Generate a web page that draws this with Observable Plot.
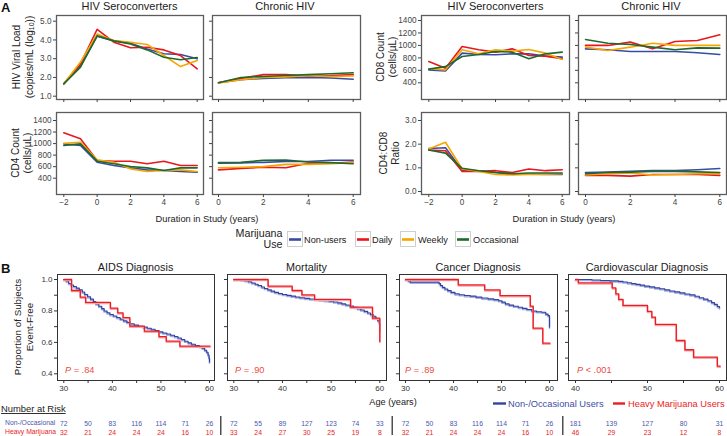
<!DOCTYPE html>
<html><head><meta charset="utf-8">
<script src="https://cdn.jsdelivr.net/npm/d3@7"></script>
<script src="https://cdn.jsdelivr.net/npm/@observablehq/plot@0.6"></script>
<style>
html,body{margin:0;padding:0;background:#fff;}
#c{position:relative;width:727px;height:436px;overflow:hidden;background:#fff;font-family:"Liberation Sans",Arial,Helvetica,sans-serif;}
</style></head>
<body><div id="c"></div>
<script>
// ---------- DATA ----------
const groups = ["Non-users","Daily","Weekly","Occasional"];
const groupColors = ["#3B4BA5","#E8171D","#F7A600","#1E6A2E"];
const seroYears = [-2,-1,0,1,2,3,4,5,6];
const chronicYears = [0,1,2,3,4,5,6];

// series order: Non-users, Daily, Weekly, Occasional
const vlSero = [
  [1.66,2.62,4.20,3.95,3.83,3.52,3.26,3.22,3.00],
  [1.66,2.72,4.57,3.88,3.58,3.61,3.47,3.17,2.46],
  [1.66,2.82,4.32,3.97,3.88,3.76,3.17,2.58,2.90],
  [1.66,2.55,4.22,3.95,3.79,3.47,3.08,2.94,3.06]
];
const vlChronic = [
  [1.72,1.88,1.95,1.98,2.00,1.97,1.90],
  [1.72,1.95,2.15,2.15,2.08,2.10,2.15],
  [1.70,1.88,2.00,2.03,2.10,2.05,2.08],
  [1.72,2.00,2.05,2.10,2.15,2.20,2.25]
];
const cd8Sero = [
  [608,590,876,855,850,865,865,828,812],
  [742,635,983,930,892,945,838,828,785],
  [625,608,930,865,930,908,935,876,775],
  [620,660,822,855,903,892,785,865,892]
];
const cd8Chronic = [
  [945,930,903,903,903,882,855],
  [1000,1000,1053,945,1063,1080,1170],
  [972,919,972,1036,1000,1000,1000],
  [1095,1036,1015,972,930,960,956]
];
const cd4Sero = [
  [995,966,677,620,579,545,533,516,504],
  [1186,1082,706,695,695,649,695,620,620],
  [1007,1024,718,677,562,516,533,545,516],
  [966,995,695,649,602,579,533,579,579]
];
const cd4Chronic = [
  [660,665,675,690,690,710,710],
  [545,570,590,580,660,660,680],
  [580,590,600,640,640,650,670],
  [670,675,710,715,680,670,650]
];
const ratioSero = [
  [1.82,1.85,0.90,0.87,0.80,0.75,0.73,0.72,0.72],
  [1.75,1.72,0.85,0.85,0.88,0.80,0.95,0.88,0.92],
  [1.80,2.08,0.95,0.85,0.72,0.70,0.72,0.73,0.75],
  [1.75,1.62,0.98,0.88,0.80,0.75,0.78,0.78,0.78]
];
const ratioChronic = [
  [0.80,0.82,0.85,0.88,0.88,0.92,0.97],
  [0.68,0.68,0.65,0.72,0.72,0.72,0.68],
  [0.70,0.75,0.78,0.70,0.72,0.75,0.75],
  [0.75,0.80,0.82,0.85,0.85,0.83,0.80]
];

// Kaplan-Meier step points [age, proportion event-free]
const aidsNon = [[30,1],[30.5,0.99],[31,0.975],[31.5,0.965],[32,0.955],[32.6,0.945],[33.2,0.935],[33.8,0.92],[34.3,0.905],[34.9,0.89],[35.5,0.875],[36.1,0.86],[36.6,0.845],[37.2,0.83],[37.8,0.815],[38.3,0.8],[38.9,0.788],[39.5,0.777],[40.2,0.768],[40.9,0.758],[41.6,0.748],[42.3,0.737],[43,0.727],[43.7,0.718],[44.5,0.71],[45.4,0.703],[46.3,0.697],[47.2,0.69],[48,0.683],[48.8,0.675],[49.6,0.667],[50.4,0.66],[51.2,0.653],[52,0.645],[52.8,0.637],[53.5,0.628],[54.2,0.618],[54.9,0.607],[55.6,0.597],[56.3,0.588],[57.1,0.58],[57.9,0.573],[58.5,0.563],[59,0.55],[59.4,0.537],[59.7,0.52],[59.9,0.5],[60,0.475]];
const aidsHeavy = [[30,1],[31.6,0.93],[33.4,0.888],[34.5,0.854],[39.6,0.818],[41.1,0.788],[42.2,0.758],[43.6,0.703],[46.6,0.671],[49.6,0.637],[51.1,0.608],[53.9,0.576],[60.1,0.576]];
const mortNon = [[30,1],[31.5,0.997],[32.3,0.992],[33,0.986],[33.7,0.978],[34.4,0.97],[35,0.962],[35.7,0.952],[36.3,0.943],[37,0.934],[37.7,0.926],[38.4,0.918],[39.2,0.911],[40,0.905],[40.9,0.899],[41.8,0.894],[42.7,0.889],[43.6,0.884],[44.6,0.88],[45.6,0.876],[46.6,0.873],[47.6,0.87],[48.6,0.866],[49.6,0.862],[50.5,0.857],[51.4,0.851],[52.2,0.845],[53,0.838],[53.8,0.831],[54.6,0.823],[55.4,0.815],[56.1,0.806],[56.8,0.797],[57.5,0.787],[58.1,0.777],[58.7,0.766],[59.2,0.752],[59.6,0.738],[59.9,0.722],[60,0.67]];
const mortHeavy = [[30,1],[37.05,0.958],[42,0.93],[44,0.902],[46.6,0.873],[54,0.824],[58.5,0.754],[60,0.606]];
const cancerNon = [[30,1],[30.6,0.991],[31,0.983],[37,0.974],[37.3,0.962],[37.7,0.95],[38.2,0.94],[38.8,0.929],[39.5,0.918],[40.3,0.909],[41.2,0.903],[42.3,0.898],[43.5,0.894],[44.7,0.888],[45.9,0.882],[47.2,0.877],[48.4,0.872],[49.4,0.865],[50.1,0.856],[50.8,0.845],[51.6,0.837],[52.5,0.83],[53.5,0.823],[54.4,0.816],[55.3,0.809],[56.3,0.8],[57.3,0.795],[58.4,0.792],[59.2,0.78],[59.7,0.77],[60,0.697]];
const cancerHeavy = [[30,1],[41,0.966],[46.5,0.934],[49.7,0.898],[56,0.83],[56.6,0.69],[58.6,0.595],[60.1,0.595]];
const cardioNon = [[40,1],[42.3,0.997],[43.5,0.994],[44.8,0.991],[46,0.988],[46.6,0.984],[47.2,0.979],[47.8,0.974],[48.4,0.969],[49,0.964],[49.6,0.958],[50.3,0.953],[51,0.947],[51.7,0.941],[52.4,0.934],[53.1,0.927],[53.8,0.921],[54.5,0.915],[55.2,0.908],[55.9,0.902],[56.6,0.893],[57.2,0.884],[57.8,0.875],[58.4,0.865],[58.9,0.853],[59.3,0.842],[59.7,0.828],[60,0.82]];
const cardioHeavy = [[40,1],[40.4,0.979],[45.1,0.947],[45.6,0.909],[46,0.873],[46.6,0.835],[50,0.797],[50.6,0.76],[51.1,0.714],[54,0.612],[55.2,0.553],[56.4,0.506],[59.7,0.449],[60.1,0.449]];

const riskAges = [30,35,40,45,50,55,60];
const riskAgesCardio = [40,45,50,55,60];
const aidsRiskNon = [72,50,83,116,114,71,26];
const aidsRiskHeavy = [32,21,24,24,24,16,10];
const mortRiskNon = [72,55,89,127,123,74,33];
const mortRiskHeavy = [33,24,27,30,25,19,8];
const cancerRiskNon = [72,50,83,116,114,71,26];
const cancerRiskHeavy = [32,21,24,24,24,16,10];
const cardioRiskNon = [181,139,127,80,31];
const cardioRiskHeavy = [46,29,23,12,8];

// ---------- DRAW ----------
const FONT = "'Liberation Sans', Arial, Helvetica, sans-serif";
const root = document.getElementById("c");
function place(svg, left, top){
  svg.style.position = "absolute";
  svg.style.left = left + "px";
  svg.style.top = top + "px";
  svg.style.overflow = "visible";
  svg.style.maxWidth = "none";
  root.appendChild(svg);
}
function toRows(years, series){
  return series.flatMap((vals,g) => vals.map((v,i) => ({x: years[i], y: v, group: groups[g]})));
}
const none = () => "";

function panelA(o){
  const ml=30, mr=4, mt=4, mb=20;
  const svg = Plot.plot({
    width: o.W+ml+mr, height: o.H+mt+mb,
    marginLeft: ml, marginRight: mr, marginTop: mt, marginBottom: mb,
    style: {background:"transparent", fontFamily: FONT, fontSize:"8.2px", color:"#444"},
    x: {domain: o.xDomain, insetLeft: o.xi[0], insetRight: o.xi[1]},
    y: {domain: o.yDomain, insetTop: o.yi[0], insetBottom: o.yi[1]},
    color: {domain: groups, range: groupColors},
    marks: [
      Plot.line(toRows(o.years, o.series), {x:"x", y:"y", z:"group", stroke:"group", strokeWidth:1.6}),
      Plot.frame({stroke:"#5c5c5c", strokeWidth:1.3}),
      Plot.axisX({ticks: o.xTicks, tickSize:3, tickPadding:2, tickFormat: o.xLabels ? d3.format("d") : none, label:null}),
      Plot.axisY({ticks: o.yTicks, tickSize:3, tickPadding:2, tickFormat: o.yFmt || none, label:null})
    ]
  });
  place(svg, o.L-ml, o.T-mt);
}

const seroX = {xDomain:[-2,6], years: seroYears, xTicks:[-2,0,2,4,6]};
const chronX = {xDomain:[0,6], years: chronicYears, xTicks:[0,2,4,6]};
const vlY = {yDomain:[1,5], yTicks:[1,2,3,4,5]};
const cellY = {yDomain:[400,1400], yTicks:[400,600,800,1000,1200,1400]};
const ratY = {yDomain:[0,3], yTicks:[0,1,2,3]};
const f1 = d3.format(".1f"), fd = d3.format("d");

panelA({...seroX, ...vlY, series: vlSero, L:56, T:15, W:147, H:84, xi:[7.3,6.3], yi:[5.7,3.3], yFmt:f1});
panelA({...chronX, ...vlY, series: vlChronic, L:212, T:15, W:148, H:84, xi:[6,7.3], yi:[5.7,3.3]});
panelA({...seroX, ...cellY, series: cd8Sero, L:421, T:15, W:148, H:84, xi:[7.3,7.3], yi:[5,16.7], yFmt:fd});
panelA({...chronX, ...cellY, series: cd8Chronic, L:578, T:15, W:148, H:84, xi:[7,6.7], yi:[5,16.7]});
panelA({...seroX, ...cellY, series: cd4Sero, L:56, T:112, W:147, H:82, xi:[7.3,6.3], yi:[8,16.3], yFmt:fd, xLabels:true});
panelA({...chronX, ...cellY, series: cd4Chronic, L:212, T:112, W:148, H:82, xi:[6,7.3], yi:[8,16.3], xLabels:true});
panelA({...seroX, ...ratY, series: ratioSero, L:421, T:112, W:148, H:82, xi:[7.3,7.3], yi:[8,3], yFmt:f1, xLabels:true});
panelA({...chronX, ...ratY, series: ratioChronic, L:578, T:112, W:148, H:82, xi:[7,6.7], yi:[8,3], xLabels:true});

// KM panels
const kmYTicks = [0.4,0.5,0.6,0.7,0.8,0.9,1.0];
const kmYFmt = d => (Math.round(d*10) % 2 === 0 ? d.toFixed(1) : "");
function panelB(o){
  const ml=30, mr=4, mt=4, mb=20;
  const acc = {x: d => d[0], y: d => d[1], curve: "step-after"};
  const svg = Plot.plot({
    width: o.W+ml+mr, height: o.H+mt+mb,
    marginLeft: ml, marginRight: mr, marginTop: mt, marginBottom: mb,
    style: {background:"transparent", fontFamily: FONT, fontSize:"8px", color:"#333"},
    x: {domain: o.xDomain, insetLeft: o.xi[0], insetRight: o.xi[1]},
    y: {domain: [0.4,1.0], insetTop: 5, insetBottom: 6.7},
    marks: [
      Plot.line(o.non, {...acc, stroke:"#a4addd", strokeWidth:1.7, dy:1}),
      Plot.line(o.non, {...acc, stroke:"#3344a0", strokeWidth:1.1}),
      Plot.line(o.heavy, {...acc, stroke:"#f6a7a9", strokeWidth:1.7, dy:1}),
      Plot.line(o.heavy, {...acc, stroke:"#ec1c24", strokeWidth:1.3}),
      Plot.frame({stroke:"#333", strokeWidth:1}),
      Plot.axisX({ticks: o.xTicks, tickSize:3, tickPadding:2, tickFormat: d => (d % 10 === 0 ? String(d) : ""), label:null}),
      Plot.axisY({ticks: kmYTicks, tickSize:3, tickPadding:2, tickFormat: o.yLabels ? kmYFmt : none, label:null})
    ]
  });
  place(svg, o.L-ml, o.T-mt);
  // number at risk, on the same x scale
  const rowsNon = o.riskAges.map((a,i) => ({age:a, n:o.riskNon[i], row:"non"}));
  const rowsHeavy = o.riskAges.map((a,i) => ({age:a, n:o.riskHeavy[i], row:"heavy"}));
  const risk = Plot.plot({
    width: o.W, height: 22, marginLeft:0, marginRight:0, marginTop:0, marginBottom:0,
    style: {background:"transparent", fontFamily: FONT, fontSize:"6.8px"},
    x: {domain: o.xDomain, insetLeft: o.xi[0], insetRight: o.xi[1], axis:null},
    y: {type:"point", domain:["non","heavy"], range:[7.7,16.7], padding:0, axis:null},
    marks: [
      Plot.text(rowsNon, {x:"age", y:"row", text:"n", fill:"#4b57ab"}),
      Plot.text(rowsHeavy, {x:"age", y:"row", text:"n", fill:"#e8232a"})
    ]
  });
  place(risk, o.L, 415);
}
const xB = {xDomain:[30,60], xTicks:[30,35,40,45,50,55,60], riskAges};
panelB({...xB, non: aidsNon, heavy: aidsHeavy, L:57, T:274, W:157, H:106, xi:[6.3,5], yLabels:true, riskNon: aidsRiskNon, riskHeavy: aidsRiskHeavy});
panelB({...xB, non: mortNon, heavy: mortHeavy, L:227, T:274, W:159, H:106, xi:[6.3,6.7], riskNon: mortRiskNon, riskHeavy: mortRiskHeavy});
panelB({...xB, non: cancerNon, heavy: cancerHeavy, L:399, T:274, W:158, H:106, xi:[6,8], riskNon: cancerRiskNon, riskHeavy: cancerRiskHeavy});
panelB({xDomain:[40,60], xTicks:[40,45,50,55,60], riskAges: riskAgesCardio, non: cardioNon, heavy: cardioHeavy, L:568, T:274, W:158, H:106, xi:[7,7], riskNon: cardioRiskNon, riskHeavy: cardioRiskHeavy});

// ---------- TEXT OVERLAY ----------
const ov = d3.create("svg").attr("width",727).attr("height",436)
  .style("position","absolute").style("left","0px").style("top","0px")
  .style("pointer-events","none").style("font-family", FONT);
function T(x, y, s, {size=10, anchor="start", weight="normal", fill="#222", rotate=false, italic=false, baseline=null}={}){
  const t = ov.append("text").attr("x",x).attr("y",y).attr("font-size",size)
    .attr("text-anchor",anchor).attr("font-weight",weight).attr("fill",fill);
  if (s !== null) t.text(s);
  if (italic) t.attr("font-style","italic");
  if (baseline) t.attr("dominant-baseline", baseline);
  if (rotate) t.attr("transform", `rotate(-90,${x},${y})`);
  return t;
}
// Panel A
T(1, 12, "A", {size:13, weight:"bold", fill:"#111"});
T(129.5, 10, "HIV Seroconverters", {size:11, anchor:"middle", fill:"#1a1a1a"});
T(285, 10, "Chronic HIV", {size:11, anchor:"middle", fill:"#1a1a1a"});
T(495.5, 10, "HIV Seroconverters", {size:11, anchor:"middle", fill:"#1a1a1a"});
T(651, 10, "Chronic HIV", {size:11, anchor:"middle", fill:"#1a1a1a"});

T(16.5, 57, "HIV Viral Load", {size:10, anchor:"middle", rotate:true, baseline:"central"});
const sub = T(28.5, 57, null, {size:10, anchor:"middle", rotate:true, baseline:"central"});
sub.append("tspan").text("(copies/mL (log");
sub.append("tspan").attr("font-size",7).attr("dy",2.5).text("10");
sub.append("tspan").attr("dy",-2.5).text("))");
T(380, 57, "CD8 Count", {size:10, anchor:"middle", rotate:true, baseline:"central"});
T(392.5, 57, "(cells/\u00b5L)", {size:10, anchor:"middle", rotate:true, baseline:"central"});
T(15, 153, "CD4 Count", {size:10, anchor:"middle", rotate:true, baseline:"central"});
T(27.5, 153, "(cells/\u00b5L)", {size:10, anchor:"middle", rotate:true, baseline:"central"});
T(383, 153, "CD4:CD8", {size:10, anchor:"middle", rotate:true, baseline:"central"});
T(395, 153, "Ratio", {size:10, anchor:"middle", rotate:true, baseline:"central"});

T(207, 221.5, "Duration in Study (years)", {size:9.3, anchor:"middle"});
T(564, 221.5, "Duration in Study (years)", {size:9.3, anchor:"middle"});

// Legend A
T(282.5, 236.5, "Marijuana", {size:10.7, anchor:"end"});
T(282.5, 248, "Use", {size:10.7, anchor:"end"});
const keyX = [287, 355, 400, 455];
const keyTextX = [304, 372, 418, 473];
groups.forEach((g,i) => {
  ov.append("rect").attr("x",keyX[i]+0.5).attr("y",231.5).attr("width",15).attr("height",15)
    .attr("fill","#fff").attr("stroke","#cfcfcf").attr("stroke-width",1);
  ov.append("line").attr("x1",keyX[i]+2).attr("x2",keyX[i]+14).attr("y1",239.5).attr("y2",239.5)
    .attr("stroke",groupColors[i]).attr("stroke-width",2.6);
  T(keyTextX[i], 242.8, g, {size:9.2, fill:"#222"});
});

// Panel B
T(1, 273, "B", {size:13, weight:"bold", fill:"#111"});
T(135.5, 270.5, "AIDS Diagnosis", {size:10.8, anchor:"middle", fill:"#1a1a1a"});
T(306.5, 270.5, "Mortality", {size:10.8, anchor:"middle", fill:"#1a1a1a"});
T(478, 270.5, "Cancer Diagnosis", {size:10.8, anchor:"middle", fill:"#1a1a1a"});
T(647, 270.5, "Cardiovascular Diagnosis", {size:10.8, anchor:"middle", fill:"#1a1a1a"});
T(17, 327, "Proportion of Subjects", {size:9.8, anchor:"middle", rotate:true, baseline:"central"});
T(29, 327, "Event-Free", {size:9.8, anchor:"middle", rotate:true, baseline:"central"});

const pLabels = [[65,"= .84"],[235,"= .90"],[405,"= .89"],[577,"< .001"]];
pLabels.forEach(([x,s]) => {
  const t = T(x, 372.5, null, {size:9.2, fill:"#ee4a44"});
  t.append("tspan").attr("font-style","italic").text("P");
  t.append("tspan").text(" " + s);
});

T(393, 405, "Age (years)", {size:9.2, anchor:"middle", fill:"#222"});
ov.append("line").attr("x1",493).attr("x2",506).attr("y1",403.5).attr("y2",403.5).attr("stroke","#3344a0").attr("stroke-width",2.4);
T(508, 407, "Non-/Occasional Users", {size:9.3, fill:"#3d4ea6"});
ov.append("line").attr("x1",613).attr("x2",625).attr("y1",403.5).attr("y2",403.5).attr("stroke","#ec1c24").attr("stroke-width",2.4);
T(628, 407, "Heavy Marijuana Users", {size:9.3, fill:"#ec1c24"});

T(1, 412, "Number at Risk", {size:9.4, fill:"#222"}).attr("text-decoration","underline");
T(5, 425, "Non-/Occasional", {size:6.8, fill:"#4b57ab"});
T(5, 434, "Heavy Marijuana", {size:6.8, fill:"#e8232a"});
[220.8, 392.2, 562.8].forEach(x => {
  ov.append("line").attr("x1",x).attr("x2",x).attr("y1",416).attr("y2",435).attr("stroke","#222").attr("stroke-width",1.2);
});

root.appendChild(ov.node());
</script>
</body></html>
